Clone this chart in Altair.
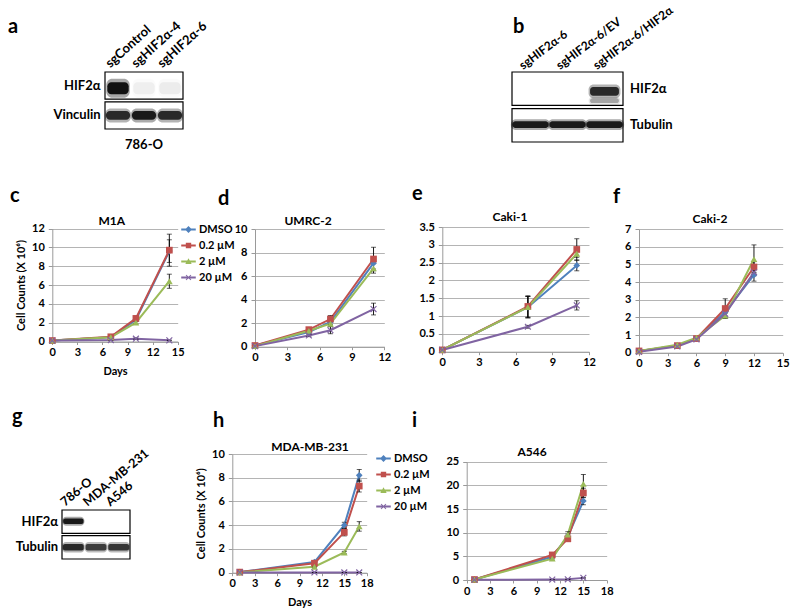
import altair as alt
import pandas as pd

W, H = 784, 600
FONT = "Lato"
AX = "#9a9a9a"
GRID = "#b4b4b4"

SERIES = ["DMSO", "0.2 µM", "2 µM", "20 µM"]
SERIES_COLORS = ["#4F81BD", "#C0504D", "#9BBB59", "#8064A2"]

# ---- c: M1A
m1a_days = [0, 7, 10, 14]
m1a = {"DMSO": [0.1, 0.45, 2.3, 9.6], "0.2 µM": [0.1, 0.5, 2.45, 9.7],
       "2 µM": [0.1, 0.45, 2.0, 6.4], "20 µM": [0.1, 0.15, 0.3, 0.12]}
m1a_err = {"DMSO": [0.02, 0.05, 0.15, 1.2], "0.2 µM": [0.02, 0.08, 0.25, 1.7],
           "2 µM": [0.02, 0.05, 0.15, 0.75], "20 µM": [0.01, 0.02, 0.08, 0.03]}
# ---- d: UMRC-2
umrc_days = [0, 5, 7, 11]
umrc = {"DMSO": [0.1, 1.25, 2.1, 7.1], "0.2 µM": [0.1, 1.45, 2.35, 7.45],
        "2 µM": [0.05, 1.35, 1.95, 6.65], "20 µM": [0.05, 0.95, 1.4, 3.2]}
umrc_err = {"DMSO": [0.02, 0.15, 0.2, 0.5], "0.2 µM": [0.02, 0.1, 0.3, 1.0],
            "2 µM": [0.02, 0.1, 0.2, 0.4], "20 µM": [0.02, 0.1, 0.3, 0.5]}
# ---- e: Caki-1
caki1_days = [0, 7, 11]
caki1 = {"DMSO": [0.05, 1.25, 2.42], "0.2 µM": [0.05, 1.27, 2.87],
         "2 µM": [0.05, 1.25, 2.75], "20 µM": [0.05, 0.7, 1.3]}
caki1_err = {"DMSO": [0.01, 0.3, 0.15], "0.2 µM": [0.01, 0.3, 0.3],
             "2 µM": [0.01, 0.3, 0.1], "20 µM": [0.01, 0.04, 0.13]}
# ---- f: Caki-2
caki2_days = [0, 4, 6, 9, 12]
caki2 = {"DMSO": [0.1, 0.4, 0.8, 2.3, 4.4], "0.2 µM": [0.1, 0.4, 0.8, 2.5, 4.85],
         "2 µM": [0.1, 0.45, 0.85, 2.1, 5.3], "20 µM": [0.05, 0.35, 0.75, 2.2, 4.55]}
caki2_err = {"DMSO": [0.01, 0.05, 0.05, 0.3, 0.35], "0.2 µM": [0.01, 0.05, 0.05, 0.55, 0.3],
             "2 µM": [0.01, 0.05, 0.05, 0.15, 0.8], "20 µM": [0.01, 0.03, 0.05, 0.2, 0.2]}
# ---- h: MDA-MB-231
mda_days = [1, 11, 15, 17]
mda = {"DMSO": [0.05, 0.9, 4.0, 8.2], "0.2 µM": [0.05, 0.8, 3.4, 7.3],
       "2 µM": [0.03, 0.5, 1.7, 3.9], "20 µM": [0.02, 0.02, 0.02, 0.02]}
mda_err = {"DMSO": [0.01, 0.1, 0.25, 0.5], "0.2 µM": [0.01, 0.1, 0.3, 0.5],
           "2 µM": [0.01, 0.05, 0.1, 0.4], "20 µM": [0.0, 0.0, 0.0, 0.0]}
# ---- i: A546
a546_days = [1, 11, 13, 15]
a546 = {"DMSO": [0.1, 4.9, 9.2, 16.7], "0.2 µM": [0.1, 5.3, 8.7, 18.4],
        "2 µM": [0.1, 4.5, 9.6, 20.3], "20 µM": [0.05, 0.1, 0.15, 0.45]}
a546_err = {"DMSO": [0.05, 0.4, 0.5, 0.8], "0.2 µM": [0.05, 0.4, 0.4, 1.0],
            "2 µM": [0.05, 0.3, 0.6, 2.0], "20 µM": [0.02, 0.05, 0.05, 0.1]}

# ---- blots
a_lanes = ["sgControl", "sgHIF2α-4", "sgHIF2α-6"]
a_rows = ["HIF2α", "Vinculin"]
a_hif = [1.0, 0.05, 0.06]
a_vinc = [0.85, 0.95, 0.85]
a_cell = "786-O"

b_lanes = ["sgHIF2α-6", "sgHIF2α-6/EV", "sgHIF2α-6/HIF2α"]
b_rows = ["HIF2α", "Tubulin"]
b_hif = [0.0, 0.0, 0.85]
b_hif_lower = [0.0, 0.0, 0.3]
b_tub = [0.95, 0.95, 0.95]

g_lanes = ["786-O", "MDA-MB-231", "A546"]
g_rows = ["HIF2α", "Tubulin"]
g_hif = [0.95, 0.0, 0.0]
g_tub = [0.85, 0.75, 0.78]

X_PATH = "M-1,-0.75L-0.75,-1L0,-0.25L0.75,-1L1,-0.75L0.25,0L1,0.75L0.75,1L0,0.25L-0.75,1L-1,0.75L-0.25,0Z"
MARKERS = ["diamond", "square", "triangle-up", X_PATH]
LINE = "M-2.3,-0.3H2.3V0.3H-2.3Z"
LEGEND_SYMBOLS = [
    LINE + "M0,-1.1L1.1,0L0,1.1L-1.1,0Z",
    LINE + "M-0.85,-0.85H0.85V0.85H-0.85Z",
    LINE + "M0,-1L1,0.8H-1Z",
    LINE + "M-0.9,-0.68L-0.68,-0.9L0,-0.22L0.68,-0.9L0.9,-0.68L0.22,0L0.9,0.68L0.68,0.9L0,0.22L-0.68,0.9L-0.9,0.68L-0.22,0Z",
]


def text_layer(txt, x, y, size, align="left", baseline="alphabetic"):
    return alt.Chart(alt.Data(values=[{"t": txt}])).mark_text(
        align=align, baseline=baseline, fontSize=size, fontWeight="bold", font=FONT, color="black"
    ).encode(x=alt.value(x), y=alt.value(y), text="t:N")


def growth_panel(days, vals, errs, xdom, xticks, ydom, yticks, xr, yr, xtitle=None, ytitle=None):
    rows = []
    for s in SERIES:
        for d, v, e in zip(days, vals[s], errs[s]):
            rows.append({"series": s, "day": d, "value": v, "lo": max(v - e, 0), "hi": v + e})
    df = pd.DataFrame(rows)
    xs = alt.Scale(domain=xdom, range=list(xr), nice=False, zero=False)
    ys = alt.Scale(domain=ydom, range=list(yr), nice=False, zero=False)
    xaxis = alt.Axis(values=xticks, orient="bottom", offset=yr[0] - H, grid=False, title=xtitle,
                     labelFont=FONT, labelFontSize=11, labelFontWeight="bold", labelColor="black",
                     domainColor=AX, tickColor=AX, tickSize=3, labelPadding=2, labelFlush=False,
                     labelOverlap=False, titleFont=FONT, titleFontSize=11, titleFontWeight="bold",
                     titleColor="black", titlePadding=8)
    yaxis = alt.Axis(values=yticks, orient="left", offset=-xr[0], grid=True, gridColor=GRID,
                     gridWidth=1, title=ytitle, format="~r",
                     labelFont=FONT, labelFontSize=11, labelFontWeight="bold", labelColor="black",
                     domainColor=AX, tickColor=AX, tickSize=4, labelPadding=4, labelFlush=False,
                     labelOverlap=False, titleFont=FONT, titleFontSize=11, titleFontWeight="bold",
                     titleColor="black", titlePadding=5)
    X = lambda f: alt.X(f, scale=xs, axis=xaxis)
    Y = lambda f: alt.Y(f, scale=ys, axis=yaxis)
    color = alt.Color("series:N", scale=alt.Scale(domain=SERIES, range=SERIES_COLORS), legend=None)
    base = alt.Chart(df)
    line = base.mark_line(strokeWidth=2).encode(x=X("day:Q"), y=Y("value:Q"), color=color)
    err = base.mark_rule(color="black", strokeWidth=0.9).encode(x=X("day:Q"), y=Y("lo:Q"), y2="hi:Q")
    cap_lo = base.mark_tick(color="black", orient="horizontal", size=5, thickness=0.9).encode(
        x=X("day:Q"), y=Y("lo:Q"))
    cap_hi = base.mark_tick(color="black", orient="horizontal", size=5, thickness=0.9).encode(
        x=X("day:Q"), y=Y("hi:Q"))
    pts = base.mark_point(filled=True, size=45, opacity=1).encode(
        x=X("day:Q"), y=Y("value:Q"), color=color,
        shape=alt.Shape("series:N", scale=alt.Scale(domain=SERIES, range=MARKERS), legend=None))
    return alt.layer(line, err, cap_lo, cap_hi, pts)


def legend_layer(lx, ly):
    leg = alt.Legend(orient="none", legendX=lx, legendY=ly, title=None, symbolSize=40,
                     symbolStrokeWidth=0, labelFont=FONT, labelFontSize=11, labelFontWeight="bold",
                     labelColor="black", rowPadding=4, labelOffset=5)
    return alt.Chart(alt.Data(values=[])).mark_point(filled=True, opacity=1).encode(
        color=alt.Color("series:N", scale=alt.Scale(domain=SERIES, range=SERIES_COLORS), legend=leg),
        shape=alt.Shape("series:N", scale=alt.Scale(domain=SERIES, range=LEGEND_SYMBOLS), legend=leg))


GAP = 0.1


def blot(lanes, rows, bands, xr, yr, side, lane_dx, lane_dy, angle, radius, lane_size, caption=None):
    n, nr = len(lanes), len(rows)
    ymax = nr + (nr - 1) * GAP
    xs = alt.Scale(domain=[0, n], range=list(xr), nice=False, zero=False)
    ys = alt.Scale(domain=[0, ymax], range=list(yr), nice=False, zero=False)
    box = pd.DataFrame({"row": rows, "x0": [0] * nr, "x1": [n] * nr,
                        "y0": [r * (1 + GAP) for r in range(nr)],
                        "y1": [r * (1 + GAP) + 1 for r in range(nr)]})
    brows = []
    for r, ints, (cy, hh, wf) in bands:
        top = r * (1 + GAP)
        for i, v in enumerate(ints):
            if v <= 0:
                continue
            m = (1 - wf) / 2
            brows.append({"x0": i + m, "x1": i + 1 - m, "y0": top + cy - hh, "y1": top + cy + hh,
                          "hx0": i + m - 0.04, "hx1": i + 1 - m + 0.04,
                          "hy0": top + cy - hh * 1.6, "hy1": top + cy + hh * 1.6,
                          "a": v, "ha": v * 0.35})
    bdf = pd.DataFrame(brows)
    X = lambda f: alt.X(f, scale=xs, axis=None)
    Y = lambda f: alt.Y(f, scale=ys, axis=None)
    halo = alt.Chart(bdf).mark_rect(color="black", cornerRadius=radius + 2).encode(
        x=X("hx0:Q"), x2="hx1:Q", y=Y("hy0:Q"), y2="hy1:Q",
        opacity=alt.Opacity("ha:Q", scale=None, legend=None))
    core = alt.Chart(bdf).mark_rect(color="#111111", cornerRadius=radius).encode(
        x=X("x0:Q"), x2="x1:Q", y=Y("y0:Q"), y2="y1:Q",
        opacity=alt.Opacity("a:Q", scale=None, legend=None))
    frame = alt.Chart(box).mark_rect(fill="white", fillOpacity=0, stroke="black", strokeWidth=1.2).encode(
        x=X("x0:Q"), x2="x1:Q", y=Y("y0:Q"), y2="y1:Q")
    ldf = pd.DataFrame({"lane": lanes, "lx": [i + lane_dx for i in range(n)], "ly": [-lane_dy] * n})
    lane_txt = alt.Chart(ldf).mark_text(align="left", baseline="alphabetic", angle=angle, fontSize=lane_size,
                                        fontWeight="bold", font=FONT, color="black").encode(
        x=X("lx:Q"), y=Y("ly:Q"), text="lane:N")
    rdf = pd.DataFrame({"row": rows, "rx": [(-0.17 if side == "left" else n + 0.19)] * nr,
                        "ry": [r * (1 + GAP) + 0.5 for r in range(nr)]})
    row_txt = alt.Chart(rdf).mark_text(align="right" if side == "left" else "left", baseline="middle",
                                       fontSize=13, fontWeight="bold", font=FONT, color="black").encode(
        x=X("rx:Q"), y=Y("ry:Q"), text="row:N")
    layers = [halo, core, frame, lane_txt, row_txt]
    if caption:
        cdf = pd.DataFrame({"c": [caption], "cx": [n / 2], "cy": [ymax + 0.6]})
        layers.append(alt.Chart(cdf).mark_text(align="center", baseline="middle", fontSize=13,
                                               fontWeight="bold", font=FONT, color="black").encode(
            x=X("cx:Q"), y=Y("cy:Q"), text="c:N"))
    return alt.layer(*layers)


panel_a = blot(a_lanes, a_rows, [(0, a_hif, (0.6, 0.22, 0.82)), (1, a_vinc, (0.5, 0.16, 0.93))],
               (97, 175), (64, 121), "left", 0.2, 0.14, 318, 4, 13, caption=a_cell)
panel_b = blot(b_lanes, b_rows, [(0, b_hif, (0.58, 0.13, 0.78)), (0, b_hif_lower, (0.86, 0.07, 0.78)),
                                 (1, b_tub, (0.48, 0.1, 0.98))],
               (504, 615), (64, 134), "right", 0.3, 0.06, 323, 3, 12)
panel_g = blot(g_lanes, g_rows, [(0, g_hif, (0.48, 0.12, 0.9)), (1, g_tub, (0.5, 0.14, 0.92))],
               (54, 122), (502, 551), "left", 0.13, 0.14, 320, 2, 12.5)

YT = "Cell Counts (X 10⁶)"
panel_c = growth_panel(m1a_days, m1a, m1a_err, [0, 15], list(range(0, 16, 3)), [0, 12],
                       list(range(0, 13, 2)), (44.3, 169.7), (333.5, 220.5), xtitle="Days", ytitle=YT)
panel_d = growth_panel(umrc_days, umrc, umrc_err, [0, 12], list(range(0, 13, 3)), [0, 10],
                       list(range(0, 11, 2)), (247, 376.3), (338.7, 221))
panel_e = growth_panel(caki1_days, caki1, caki1_err, [0, 12], list(range(0, 13, 3)), [0, 3.5],
                       [0, 0.5, 1, 1.5, 2, 2.5, 3, 3.5], (434.3, 581), (343.7, 219))
panel_f = growth_panel(caki2_days, caki2, caki2_err, [0, 15], list(range(0, 16, 3)), [0, 7],
                       list(range(0, 8)), (631, 774.7), (344.7, 221))
panel_h = growth_panel(mda_days, mda, mda_err, [0, 18], list(range(0, 19, 3)), [0, 10],
                       list(range(0, 11, 2)), (224.3, 358.7), (564.7, 446), xtitle="Days", ytitle=YT)
panel_i = growth_panel(a546_days, a546, a546_err, [0, 18], list(range(0, 19, 3)), [0, 25],
                       list(range(0, 26, 5)), (458.7, 598.7), (572, 453.7))

labels = [
    text_layer("a", 0, 25, 20), text_layer("b", 505, 25, 20),
    text_layer("c", 2, 194, 20), text_layer("d", 210, 197, 20),
    text_layer("e", 404, 192, 20), text_layer("f", 605, 195, 20),
    text_layer("g", 4, 415, 20), text_layer("h", 205, 419, 20), text_layer("i", 404, 419, 20),
    text_layer("M1A", 103.7, 213, 12, "center", "middle"),
    text_layer("UMRC-2", 300, 213, 12, "center", "middle"),
    text_layer("Caki-1", 502, 209, 12, "center", "middle"),
    text_layer("Caki-2", 702, 211, 12, "center", "middle"),
    text_layer("MDA-MB-231", 302, 439, 12, "center", "middle"),
    text_layer("A546", 524, 444, 12, "center", "middle"),
]

chart = alt.layer(
    panel_a, panel_b, panel_g, panel_c, panel_d, panel_e, panel_f, panel_h, panel_i,
    legend_layer(175, 216), legend_layer(370, 445), *labels
).resolve_scale(
    x="independent", y="independent", color="independent", shape="independent"
).properties(
    width=W, height=H, autosize=alt.AutoSizeParams(type="none"), padding=0
).configure_view(stroke=None)

chart.save("out.html", embed_options={"renderer": "svg", "actions": False})
